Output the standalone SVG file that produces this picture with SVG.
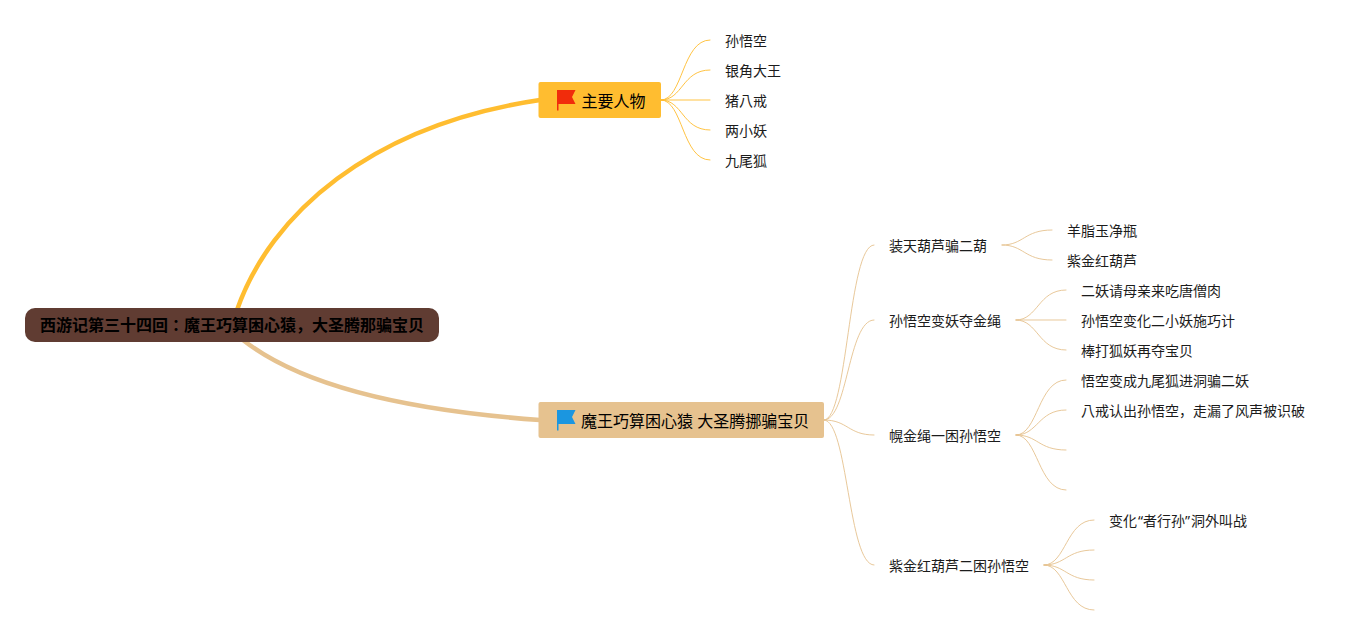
<svg xmlns="http://www.w3.org/2000/svg" width="1365" height="635" viewBox="0 0 1365 635">
<style>
text{font-family:"Noto Sans","Noto Sans CJK JP",sans-serif;fill:#000}
.leaf{font-size:14px;fill:#1c1c1c}
.topic{font-size:16px}
.root{font-size:16px;font-weight:700}
.y,.b{fill:none;stroke-linecap:round}
.y{stroke:#ffbd30}
.b{stroke:#e6c28f}
.t{stroke-width:1;opacity:.9}
</style>
<rect width="1365" height="635" fill="#fff"/>
<g id="connectors">
<path class="y" stroke-width="4.500" d="M237 310C270 215 370 125 540 100"/>
<path class="b" stroke-width="4.500" d="M243 340C300 385 400 410 540 420"/>
<path class="y t" d="M661 100C683 100 682 40 710 40"/>
<path class="y t" d="M661 100C683 100 682 70 710 70"/>
<path class="y t" d="M661 100H710" stroke-width="1.500"/>
<path class="y t" d="M661 100C683 100 682 130 710 130"/>
<path class="y t" d="M661 100C683 100 682 160 710 160"/>
<path class="b t" d="M824 420C848 420 848 245 874 245"/>
<path class="b t" d="M824 420C848 420 848 320 874 320"/>
<path class="b t" d="M824 420C848 420 848 435 874 435"/>
<path class="b t" d="M824 420C848 420 848 565 874 565"/>
<path class="b t" d="M1002 245C1024 245 1024 230 1052 230"/>
<path class="b t" d="M1002 245C1024 245 1024 260 1052 260"/>
<path class="b t" d="M1016 320C1038 320 1038 290 1066 290"/>
<path class="b t" d="M1016 320H1066"/>
<path class="b t" d="M1016 320C1038 320 1038 350 1066 350"/>
<path class="b t" d="M1016 435C1038 435 1038 380 1066 380"/>
<path class="b t" d="M1016 435C1038 435 1038 410 1066 410"/>
<path class="b t" d="M1016 435C1038 435 1038 450 1066 450"/>
<path class="b t" d="M1016 435C1038 435 1038 490 1066 490"/>
<path class="b t" d="M1044 565C1066 565 1066 520 1094 520"/>
<path class="b t" d="M1044 565C1066 565 1066 550 1094 550"/>
<path class="b t" d="M1044 565C1066 565 1066 580 1094 580"/>
<path class="b t" d="M1044 565C1066 565 1066 610 1094 610"/>
</g>
<g id="root"><rect x="25" y="308" width="414" height="34" rx="10" fill="#603c32"/><text class="root" x="40" y="331">西游记第三十四回：魔王巧算困心猿，大圣腾那骗宝贝</text></g>
<g id="topic1"><rect x="538.500" y="82" width="122.500" height="36" rx="2" fill="#ffbd30"/>
<path d="M557 90H575.500L572 97L575.500 104H558.500V110.500H557Z" fill="#f12c0b"/><text class="topic" x="581.500" y="107">主要人物</text></g>
<g id="topic2"><rect x="538.500" y="402" width="285.500" height="36" rx="2" fill="#e6c28f"/>
<path d="M557 410H575.500L572 417L575.500 424H558.500V430.500H557Z" fill="#1b96e0"/><text class="topic" x="581" y="427">魔王巧算困心猿 大圣腾挪骗宝贝</text></g>
<g id="n1"><text class="leaf" x="725" y="46">孙悟空</text></g>
<g id="n2"><text class="leaf" x="725" y="76">银角大王</text></g>
<g id="n3"><text class="leaf" x="725" y="106">猪八戒</text></g>
<g id="n4"><text class="leaf" x="725" y="136">两小妖</text></g>
<g id="n5"><text class="leaf" x="725" y="166">九尾狐</text></g>
<g id="s1"><text class="leaf" x="889" y="251">装天葫芦骗二葫</text></g>
<g id="s2"><text class="leaf" x="889" y="326">孙悟空变妖夺金绳</text></g>
<g id="s3"><text class="leaf" x="889" y="441">幌金绳一困孙悟空</text></g>
<g id="s4"><text class="leaf" x="889" y="571">紫金红葫芦二困孙悟空</text></g>
<g id="l1"><text class="leaf" x="1067" y="236">羊脂玉净瓶</text></g>
<g id="l2"><text class="leaf" x="1067" y="266">紫金红葫芦</text></g>
<g id="l3"><text class="leaf" x="1081" y="296">二妖请母亲来吃唐僧肉</text></g>
<g id="l4"><text class="leaf" x="1081" y="326">孙悟空变化二小妖施巧计</text></g>
<g id="l5"><text class="leaf" x="1081" y="356">棒打狐妖再夺宝贝</text></g>
<g id="l6"><text class="leaf" x="1081" y="386">悟空变成九尾狐进洞骗二妖</text></g>
<g id="l7"><text class="leaf" x="1081" y="416">八戒认出孙悟空，走漏了风声被识破</text></g>
<g id="l8"><text class="leaf" x="1109" y="526">变化<tspan dx="1">“者行孙”</tspan><tspan dx="1">洞外叫战</tspan></text></g>
</svg>
